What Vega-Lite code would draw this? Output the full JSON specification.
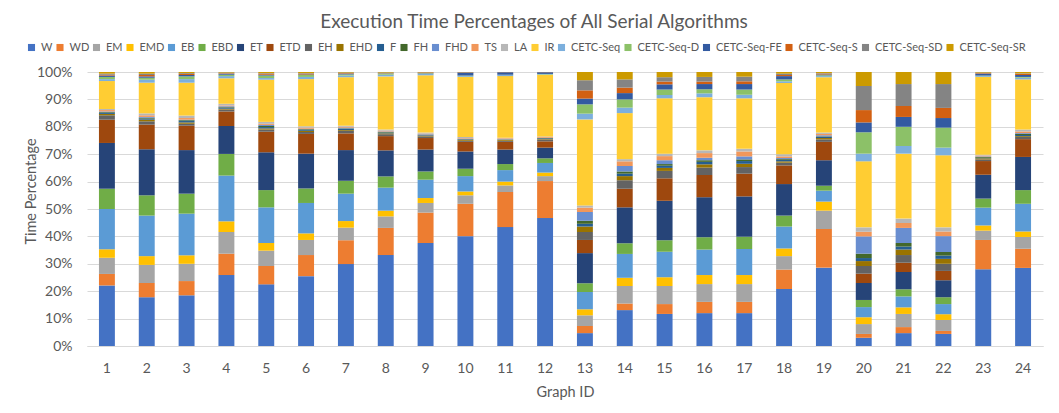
{
  "$schema": "https://vega.github.io/schema/vega-lite/v6.json",
  "autosize": {"type": "none"},
  "width": 956,
  "height": 274,
  "padding": {"left": 87, "top": 72, "right": 16, "bottom": 67},
  "background": "white",
  "title": {
    "text": "Execution Time Percentages of All Serial Algorithms",
    "font": "Lato",
    "fontSize": 19,
    "fontWeight": "normal",
    "color": "#595959",
    "anchor": "middle",
    "frame": "group",
    "dx": -31,
    "offset": 10
  },
  "data": {
    "values": [
      {"g":1,"W":22.1,"WD":4.2,"EM":5.9,"EMD":3.1,"EB":14.7,"EBD":7.4,"ET":16.7,"ETD":8.5,"EH":1.6,"EHD":0.5,"F":0.5,"FH":0.2,"FHD":0.2,"TS":0.5,"LA":0.4,"IR":10.2,"CETC-Seq":0.7,"CETC-Seq-D":0.8,"CETC-Seq-FE":0.5,"CETC-Seq-S":0.3,"CETC-Seq-SD":0.4,"CETC-Seq-SR":0.6},
      {"g":2,"W":17.8,"WD":5.2,"EM":6.6,"EMD":3.2,"EB":14.8,"EBD":7.4,"ET":16.8,"ETD":9.0,"EH":1.2,"EHD":0.6,"F":0.4,"FH":0.3,"FHD":0.3,"TS":0.6,"LA":0.7,"IR":11.2,"CETC-Seq":1.1,"CETC-Seq-D":0.7,"CETC-Seq-FE":0.5,"CETC-Seq-S":0.5,"CETC-Seq-SD":0.5,"CETC-Seq-SR":0.6},
      {"g":3,"W":18.5,"WD":5.2,"EM":6.3,"EMD":3.1,"EB":15.2,"EBD":7.3,"ET":15.9,"ETD":8.9,"EH":0.7,"EHD":0.5,"F":0.5,"FH":0.3,"FHD":0.2,"TS":0.6,"LA":0.9,"IR":12.0,"CETC-Seq":1.3,"CETC-Seq-D":1.0,"CETC-Seq-FE":0.5,"CETC-Seq-S":0.4,"CETC-Seq-SD":0.3,"CETC-Seq-SR":0.4},
      {"g":4,"W":25.9,"WD":7.8,"EM":7.9,"EMD":3.9,"EB":16.7,"EBD":7.9,"ET":10.2,"ETD":5.3,"EH":0.7,"EHD":0.3,"F":0.4,"FH":0.2,"FHD":0.3,"TS":0.3,"LA":0.6,"IR":9.3,"CETC-Seq":0.8,"CETC-Seq-D":0.5,"CETC-Seq-FE":0.3,"CETC-Seq-S":0.2,"CETC-Seq-SD":0.3,"CETC-Seq-SR":0.2},
      {"g":5,"W":22.5,"WD":6.7,"EM":5.6,"EMD":2.8,"EB":13.0,"EBD":6.3,"ET":13.8,"ETD":7.5,"EH":0.8,"EHD":0.4,"F":0.5,"FH":0.4,"FHD":0.4,"TS":0.4,"LA":0.7,"IR":15.4,"CETC-Seq":0.6,"CETC-Seq-D":0.9,"CETC-Seq-FE":0.3,"CETC-Seq-S":0.4,"CETC-Seq-SD":0.2,"CETC-Seq-SR":0.4},
      {"g":6,"W":25.5,"WD":7.7,"EM":5.5,"EMD":2.4,"EB":11.1,"EBD":5.3,"ET":12.7,"ETD":7.2,"EH":0.7,"EHD":0.4,"F":0.3,"FH":0.3,"FHD":0.2,"TS":0.4,"LA":0.5,"IR":17.2,"CETC-Seq":0.8,"CETC-Seq-D":0.7,"CETC-Seq-FE":0.2,"CETC-Seq-S":0.3,"CETC-Seq-SD":0.2,"CETC-Seq-SR":0.4},
      {"g":7,"W":29.9,"WD":8.7,"EM":4.6,"EMD":2.4,"EB":10.0,"EBD":4.7,"ET":11.2,"ETD":6.1,"EH":0.9,"EHD":0.3,"F":0.4,"FH":0.2,"FHD":0.3,"TS":0.3,"LA":0.4,"IR":17.7,"CETC-Seq":0.6,"CETC-Seq-D":0.4,"CETC-Seq-FE":0.3,"CETC-Seq-S":0.2,"CETC-Seq-SD":0.2,"CETC-Seq-SR":0.2},
      {"g":8,"W":33.2,"WD":9.9,"EM":4.2,"EMD":2.1,"EB":8.4,"EBD":4.1,"ET":9.5,"ETD":5.2,"EH":0.7,"EHD":0.3,"F":0.3,"FH":0.2,"FHD":0.2,"TS":0.3,"LA":0.4,"IR":19.4,"CETC-Seq":0.6,"CETC-Seq-D":0.4,"CETC-Seq-FE":0.1,"CETC-Seq-S":0.1,"CETC-Seq-SD":0.2,"CETC-Seq-SR":0.2},
      {"g":9,"W":37.6,"WD":11.1,"EM":3.5,"EMD":1.8,"EB":6.7,"EBD":3.0,"ET":8.0,"ETD":4.2,"EH":0.6,"EHD":0.3,"F":0.2,"FH":0.1,"FHD":0.2,"TS":0.2,"LA":0.4,"IR":20.9,"CETC-Seq":0.5,"CETC-Seq-D":0.2,"CETC-Seq-FE":0.1,"CETC-Seq-S":0.2,"CETC-Seq-SD":0.1,"CETC-Seq-SR":0.1},
      {"g":10,"W":40.1,"WD":11.8,"EM":3.1,"EMD":1.4,"EB":5.6,"EBD":2.7,"ET":6.3,"ETD":3.5,"EH":0.4,"EHD":0.3,"F":0.2,"FH":0.1,"FHD":0.2,"TS":0.2,"LA":0.4,"IR":21.9,"CETC-Seq":0.3,"CETC-Seq-D":0.2,"CETC-Seq-FE":1.1,"CETC-Seq-S":0.1,"CETC-Seq-SD":0.05,"CETC-Seq-SR":0.05},
      {"g":11,"W":43.4,"WD":12.8,"EM":2.4,"EMD":1.4,"EB":4.2,"EBD":2.2,"ET":5.3,"ETD":2.8,"EH":0.4,"EHD":0.3,"F":0.1,"FH":0.1,"FHD":0.1,"TS":0.3,"LA":0.2,"IR":22.5,"CETC-Seq":0.4,"CETC-Seq-D":0.1,"CETC-Seq-FE":0.9,"CETC-Seq-S":0.05,"CETC-Seq-SD":0.03,"CETC-Seq-SR":0.02},
      {"g":12,"W":46.7,"WD":13.5,"EM":1.8,"EMD":1.3,"EB":3.5,"EBD":1.7,"ET":3.9,"ETD":2.3,"EH":0.6,"EHD":0.2,"F":0.3,"FH":0.1,"FHD":0.1,"TS":0.3,"LA":0.2,"IR":22.4,"CETC-Seq":0.2,"CETC-Seq-D":0.2,"CETC-Seq-FE":0.6,"CETC-Seq-S":0.05,"CETC-Seq-SD":0.03,"CETC-Seq-SR":0.02},
      {"g":13,"W":4.7,"WD":2.6,"EM":3.9,"EMD":2.2,"EB":6.3,"EBD":3.2,"ET":11.0,"ETD":4.8,"EH":2.9,"EHD":2.0,"F":1.0,"FH":1.1,"FHD":3.2,"TS":1.6,"LA":0.8,"IR":31.4,"CETC-Seq":2.1,"CETC-Seq-D":3.4,"CETC-Seq-FE":2.1,"CETC-Seq-S":3.0,"CETC-Seq-SD":3.7,"CETC-Seq-SR":3.0},
      {"g":14,"W":13.1,"WD":2.4,"EM":6.4,"EMD":3.0,"EB":8.7,"EBD":3.9,"ET":13.1,"ETD":6.8,"EH":3.1,"EHD":1.5,"F":0.9,"FH":0.8,"FHD":2.0,"TS":1.7,"LA":0.8,"IR":16.8,"CETC-Seq":2.0,"CETC-Seq-D":3.0,"CETC-Seq-FE":2.3,"CETC-Seq-S":2.0,"CETC-Seq-SD":3.0,"CETC-Seq-SR":2.7},
      {"g":15,"W":11.7,"WD":3.6,"EM":6.6,"EMD":3.2,"EB":9.3,"EBD":4.2,"ET":14.4,"ETD":8.2,"EH":2.7,"EHD":1.1,"F":0.8,"FH":0.6,"FHD":1.4,"TS":1.5,"LA":0.9,"IR":20.2,"CETC-Seq":1.2,"CETC-Seq-D":2.0,"CETC-Seq-FE":1.9,"CETC-Seq-S":1.0,"CETC-Seq-SD":1.6,"CETC-Seq-SR":1.9},
      {"g":16,"W":12.0,"WD":4.1,"EM":6.5,"EMD":3.3,"EB":9.3,"EBD":4.5,"ET":14.6,"ETD":8.1,"EH":2.7,"EHD":1.2,"F":0.9,"FH":0.6,"FHD":0.9,"TS":1.7,"LA":1.0,"IR":19.4,"CETC-Seq":1.4,"CETC-Seq-D":1.5,"CETC-Seq-FE":1.9,"CETC-Seq-S":0.9,"CETC-Seq-SD":1.7,"CETC-Seq-SR":1.8},
      {"g":17,"W":12.0,"WD":4.1,"EM":6.5,"EMD":3.3,"EB":9.5,"EBD":4.5,"ET":14.7,"ETD":8.3,"EH":2.4,"EHD":1.2,"F":1.0,"FH":0.6,"FHD":1.1,"TS":1.8,"LA":1.0,"IR":18.4,"CETC-Seq":1.3,"CETC-Seq-D":1.9,"CETC-Seq-FE":2.0,"CETC-Seq-S":1.0,"CETC-Seq-SD":1.7,"CETC-Seq-SR":1.7},
      {"g":18,"W":20.8,"WD":7.1,"EM":4.9,"EMD":2.8,"EB":8.0,"EBD":4.0,"ET":11.5,"ETD":6.8,"EH":1.0,"EHD":0.5,"F":0.5,"FH":0.3,"FHD":0.4,"TS":0.6,"LA":0.8,"IR":26.0,"CETC-Seq":0.6,"CETC-Seq-D":0.7,"CETC-Seq-FE":1.2,"CETC-Seq-S":0.4,"CETC-Seq-SD":0.5,"CETC-Seq-SR":0.6},
      {"g":19,"W":28.6,"WD":14.1,"EM":6.7,"EMD":3.3,"EB":4.0,"EBD":1.8,"ET":9.3,"ETD":6.7,"EH":0.9,"EHD":0.5,"F":0.4,"FH":0.2,"FHD":0.4,"TS":0.5,"LA":0.5,"IR":20.2,"CETC-Seq":0.4,"CETC-Seq-D":0.3,"CETC-Seq-FE":0.3,"CETC-Seq-S":0.3,"CETC-Seq-SD":0.2,"CETC-Seq-SR":0.4},
      {"g":20,"W":3.0,"WD":1.4,"EM":3.6,"EMD":2.5,"EB":3.7,"EBD":2.6,"ET":6.2,"ETD":3.4,"EH":2.8,"EHD":1.8,"F":1.1,"FH":1.6,"FHD":6.3,"TS":1.7,"LA":1.6,"IR":24.1,"CETC-Seq":2.8,"CETC-Seq-D":7.8,"CETC-Seq-FE":3.6,"CETC-Seq-S":4.5,"CETC-Seq-SD":8.8,"CETC-Seq-SR":5.1},
      {"g":21,"W":4.7,"WD":2.2,"EM":4.8,"EMD":2.4,"EB":4.0,"EBD":2.6,"ET":6.3,"ETD":3.4,"EH":2.8,"EHD":2.0,"F":1.1,"FH":1.3,"FHD":5.5,"TS":1.8,"LA":1.6,"IR":23.7,"CETC-Seq":2.8,"CETC-Seq-D":7.0,"CETC-Seq-FE":3.6,"CETC-Seq-S":4.0,"CETC-Seq-SD":8.0,"CETC-Seq-SR":4.4},
      {"g":22,"W":4.4,"WD":1.1,"EM":4.0,"EMD":2.1,"EB":3.7,"EBD":2.5,"ET":6.2,"ETD":3.4,"EH":2.6,"EHD":1.8,"F":1.2,"FH":1.3,"FHD":5.8,"TS":1.7,"LA":1.5,"IR":26.3,"CETC-Seq":2.8,"CETC-Seq-D":7.3,"CETC-Seq-FE":3.5,"CETC-Seq-S":3.7,"CETC-Seq-SD":8.7,"CETC-Seq-SR":4.4},
      {"g":23,"W":28.0,"WD":10.7,"EM":3.4,"EMD":1.9,"EB":6.5,"EBD":3.3,"ET":8.7,"ETD":5.0,"EH":0.6,"EHD":0.4,"F":0.2,"FH":0.3,"FHD":0.2,"TS":0.3,"LA":0.3,"IR":28.4,"CETC-Seq":0.3,"CETC-Seq-D":0.2,"CETC-Seq-FE":0.7,"CETC-Seq-S":0.2,"CETC-Seq-SD":0.2,"CETC-Seq-SR":0.2},
      {"g":24,"W":28.5,"WD":7.0,"EM":4.3,"EMD":2.0,"EB":10.1,"EBD":5.0,"ET":12.1,"ETD":6.5,"EH":0.8,"EHD":0.3,"F":0.4,"FH":0.4,"FHD":0.3,"TS":0.6,"LA":0.7,"IR":18.3,"CETC-Seq":0.6,"CETC-Seq-D":0.3,"CETC-Seq-FE":0.7,"CETC-Seq-S":0.4,"CETC-Seq-SD":0.2,"CETC-Seq-SR":0.5}
    ]
  },
  "transform": [
    {"fold": ["W","WD","EM","EMD","EB","EBD","ET","ETD","EH","EHD","F","FH","FHD","TS","LA","IR","CETC-Seq","CETC-Seq-D","CETC-Seq-FE","CETC-Seq-S","CETC-Seq-SD","CETC-Seq-SR"], "as": ["series","value"]},
    {"lookup": "series", "from": {"data": {"values": [
      {"series":"W","o":1},{"series":"WD","o":2},{"series":"EM","o":3},{"series":"EMD","o":4},{"series":"EB","o":5},{"series":"EBD","o":6},{"series":"ET","o":7},{"series":"ETD","o":8},{"series":"EH","o":9},{"series":"EHD","o":10},{"series":"F","o":11},{"series":"FH","o":12},{"series":"FHD","o":13},{"series":"TS","o":14},{"series":"LA","o":15},{"series":"IR","o":16},{"series":"CETC-Seq","o":17},{"series":"CETC-Seq-D","o":18},{"series":"CETC-Seq-FE","o":19},{"series":"CETC-Seq-S","o":20},{"series":"CETC-Seq-SD","o":21},{"series":"CETC-Seq-SR","o":22}
    ]}, "key": "series", "fields": ["o"]}}
  ],
  "mark": {"type": "bar"},
  "encoding": {
    "x": {
      "field": "g", "type": "ordinal",
      "scale": {"paddingInner": 0.6, "paddingOuter": 0.3},
      "axis": {"title": "Graph ID", "labelAngle": 0, "ticks": false, "tickSize": 0, "labelPadding": 15, "titlePadding": 10, "domainColor": "#D9D9D9", "domainWidth": 1}
    },
    "y": {
      "field": "value", "type": "quantitative", "stack": "zero",
      "scale": {"domain": [0, 100], "nice": false},
      "axis": {"title": "Time Percentage", "values": [0,10,20,30,40,50,60,70,80,90,100], "labelExpr": "datum.value + '%'", "ticks": false, "tickSize": 0, "domain": false, "labelPadding": 15, "gridColor": "#D9D9D9", "gridWidth": 1, "titleX": -56, "titleY": 119, "titleAlign": "center", "titleBaseline": "middle"}
    },
    "color": {
      "field": "series", "type": "nominal",
      "scale": {
        "domain": ["W","WD","EM","EMD","EB","EBD","ET","ETD","EH","EHD","F","FH","FHD","TS","LA","IR","CETC-Seq","CETC-Seq-D","CETC-Seq-FE","CETC-Seq-S","CETC-Seq-SD","CETC-Seq-SR"],
        "range": ["#4472C4","#ED7D31","#A5A5A5","#FFC000","#5B9BD5","#70AD47","#264478","#9E480E","#636363","#997300","#255E91","#43682B","#698ED0","#F1975A","#B7B7B7","#FFCD33","#7CAFDD","#8CC168","#335AA1","#D26012","#848484","#CC9A00"]
      },
      "legend": {
        "title": null, "orient": "none", "legendX": -61, "legendY": -30,
        "direction": "horizontal", "columns": 22, "gridAlign": "none",
        "symbolType": "square", "symbolSize": 50, "symbolStrokeWidth": 0,
        "labelFont": "Lato", "labelFontSize": 11, "labelColor": "#595959",
        "labelOffset": 4, "columnPadding": 1.5
      }
    },
    "order": {"field": "o", "type": "quantitative", "sort": "ascending"}
  },
  "config": {
    "view": {"stroke": null},
    "font": "Lato",
    "axis": {
      "labelFont": "Lato", "labelFontSize": 14, "labelColor": "#595959",
      "titleFont": "Lato", "titleFontSize": 14.5, "titleFontWeight": "normal", "titleColor": "#595959"
    }
  }
}
